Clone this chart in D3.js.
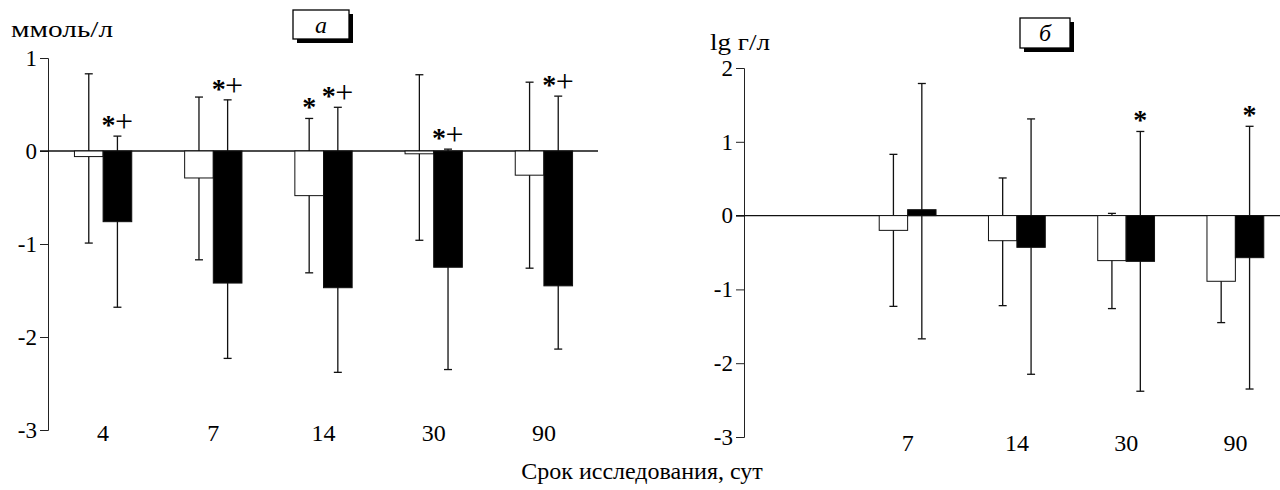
<!DOCTYPE html>
<html>
<head>
<meta charset="utf-8">
<script src="https://cdn.jsdelivr.net/npm/d3@7"></script>
<style>
  body { margin: 0; background: #fff; }
  svg { font-family: "Liberation Serif", serif; }
</style>
</head>
<body>
<div id="chart"></div>
<script>
// panel а (ммоль/л)
const leftCategories = ['4', '7', '14', '30', '90']
const leftLight = [-0.06, -0.29, -0.48, -0.03, -0.26]
const leftLightLo = [-0.99, -1.17, -1.31, -0.96, -1.26]
const leftLightHi = [0.83, 0.58, 0.35, 0.82, 0.74]
const leftDark = [-0.76, -1.42, -1.47, -1.25, -1.45]
const leftDarkLo = [-1.68, -2.23, -2.38, -2.35, -2.13]
const leftDarkHi = [0.16, 0.55, 0.47, 0.02, 0.59]
const leftLightMarks = ['', '', '*', '', '']
const leftDarkMarks = ['*+', '*+', '*+', '*+', '*+']
const leftTicks = [1, 0, -1, -2, -3]

// panel б (lg г/л)
const rightCategories = ['7', '14', '30', '90']
const rightLight = [-0.2, -0.34, -0.61, -0.89]
const rightLightLo = [-1.23, -1.22, -1.26, -1.45]
const rightLightHi = [0.83, 0.51, 0.03, -0.33]
const rightDark = [0.08, -0.43, -0.62, -0.57]
const rightDarkLo = [-1.67, -2.15, -2.38, -2.35]
const rightDarkHi = [1.79, 1.31, 1.14, 1.21]
const rightLightMarks = ['', '', '', '']
const rightDarkMarks = ['', '', '*', '*']
const rightTicks = [2, 1, 0, -1, -2, -3]

const svg = d3.select('#chart')
    .append('svg')
        .attr('width', 1280)
        .attr('height', 490)

function panel(opts) {
    const g = svg.append('g')

    const y = d3.scaleLinear().domain(opts.yDomain).range(opts.yRange)
    const x = d3.scaleBand()
        .domain(opts.categories)
        .range(opts.xRange)
        .paddingInner(0.48)
        .paddingOuter(0.24)
    const sub = d3.scaleBand().domain(['light', 'dark']).range([0, x.bandwidth()])

    // y axis, plain hyphen for negatives like the original
    const axis = g.append('g')
        .attr('transform', `translate(${opts.axisX},0)`)
        .call(d3.axisLeft(y).tickValues(opts.ticks).tickSize(8).tickPadding(3).tickFormat(d => String(d)))
    axis.attr('font-family', null).attr('font-size', null)
    axis.selectAll('text')
        .style('font-family', '"Liberation Serif", serif')
        .style('font-size', '23px')
        .attr('fill', '#000')
    axis.selectAll('line, path').attr('stroke', '#222').attr('stroke-width', 1)

    // zero line
    g.append('line')
        .attr('x1', opts.axisX - 8).attr('x2', opts.zeroEnd)
        .attr('y1', y(0)).attr('y2', y(0))
        .attr('stroke', '#111').attr('stroke-width', 1.3)

    const rows = opts.categories.map((c, i) => [
        { c, key: 'light', v: opts.light[i], lo: opts.lightLo[i], hi: opts.lightHi[i], mark: opts.lightMarks[i] },
        { c, key: 'dark', v: opts.dark[i], lo: opts.darkLo[i], hi: opts.darkHi[i], mark: opts.darkMarks[i] }
    ]).flat()
    const cx = d => x(d.c) + sub(d.key) + sub.bandwidth() / 2

    // error bars (behind bars)
    const err = g.selectAll('.err').data(rows).enter().append('g')
    err.append('line')
        .attr('x1', cx).attr('x2', cx)
        .attr('y1', d => y(d.hi)).attr('y2', d => y(d.lo))
        .attr('stroke', '#111').attr('stroke-width', 1.3)
    err.append('line')
        .attr('x1', d => cx(d) - 4).attr('x2', d => cx(d) + 4)
        .attr('y1', d => y(d.hi)).attr('y2', d => y(d.hi))
        .attr('stroke', '#111').attr('stroke-width', 1.3)
    err.append('line')
        .attr('x1', d => cx(d) - 4).attr('x2', d => cx(d) + 4)
        .attr('y1', d => y(d.lo)).attr('y2', d => y(d.lo))
        .attr('stroke', '#111').attr('stroke-width', 1.3)

    // bars
    g.selectAll('.bar').data(rows).enter()
        .append('rect')
        .attr('x', d => x(d.c) + sub(d.key))
        .attr('width', sub.bandwidth())
        .attr('y', d => y(Math.max(0, d.v)))
        .attr('height', d => Math.abs(y(d.v) - y(0)))
        .attr('fill', d => d.key === 'dark' ? '#000' : '#fff')
        .attr('stroke', '#111')
        .attr('stroke-width', 1)

    // significance marks, one text per symbol so asterisk and plus sit on one line
    const glyphs = rows.filter(d => d.mark).flatMap(d => d.mark.split('').map((ch, i, arr) => ({
        ch,
        x: cx(d) + (arr.length > 1 ? (i === 0 ? -9 : 6.5) : 0),
        hiY: y(d.hi)
    })))
    g.selectAll('.mark').data(glyphs).enter()
        .append('text')
        .attr('x', d => d.x)
        .attr('y', d => d.ch === '*' ? d.hiY - 2 : d.hiY - 4)
        .attr('text-anchor', 'middle')
        .attr('font-size', d => d.ch === '*' ? 28 : 32)
        .attr('font-weight', d => d.ch === '*' ? 'bold' : 'normal')
        .text(d => d.ch)

    // category labels
    g.selectAll('.cat').data(opts.categories).enter()
        .append('text')
        .attr('x', d => x(d) + x.bandwidth() / 2)
        .attr('y', opts.catY)
        .attr('text-anchor', 'middle')
        .attr('font-size', 24)
        .text(d => d)

    // unit label (the scan prints it wide)
    g.append('text')
        .attr('x', opts.unitX).attr('y', opts.unitY)
        .attr('font-size', 23)
        .attr('textLength', opts.unitW)
        .attr('lengthAdjust', 'spacingAndGlyphs')
        .text(opts.unit)

    // boxed panel letter with shadow
    const b = opts.box
    g.append('rect').attr('x', b[0] + 4).attr('y', b[1] + 4).attr('width', b[2]).attr('height', b[3]).attr('fill', '#000')
    g.append('rect').attr('x', b[0]).attr('y', b[1]).attr('width', b[2]).attr('height', b[3])
        .attr('fill', '#fff').attr('stroke', '#000').attr('stroke-width', 1.3)
    g.append('text')
        .attr('x', b[0] + b[2] / 2).attr('y', b[1] + b[3] / 2 + 8)
        .attr('text-anchor', 'middle')
        .attr('font-size', 24)
        .attr('font-style', 'italic')
        .text(opts.letter)
}

panel({
    categories: leftCategories,
    light: leftLight, lightLo: leftLightLo, lightHi: leftLightHi, lightMarks: leftLightMarks,
    dark: leftDark, darkLo: leftDarkLo, darkHi: leftDarkHi, darkMarks: leftDarkMarks,
    ticks: leftTicks,
    yDomain: [-3, 1], yRange: [430, 58],
    xRange: [48, 599], axisX: 48, zeroEnd: 598,
    catY: 441,
    unit: 'ммоль/л', unitX: 11, unitY: 37, unitW: 102,
    box: [293, 10, 56, 29], letter: 'а'
})

panel({
    categories: rightCategories,
    light: rightLight, lightLo: rightLightLo, lightHi: rightLightHi, lightMarks: rightLightMarks,
    dark: rightDark, darkLo: rightDarkLo, darkHi: rightDarkHi, darkMarks: rightDarkMarks,
    ticks: rightTicks,
    yDomain: [-3, 2], yRange: [437, 68],
    xRange: [853, 1290], axisX: 744, zeroEnd: 1280,
    catY: 451,
    unit: 'lg г/л', unitX: 710, unitY: 50, unitW: 60,
    box: [1020, 18, 50, 30], letter: 'б'
})

// shared x title
svg.append('text')
    .attr('x', 642).attr('y', 479)
    .attr('text-anchor', 'middle')
    .attr('font-size', 24)
    .text('Срок исследования, сут')
</script>
</body>
</html>
